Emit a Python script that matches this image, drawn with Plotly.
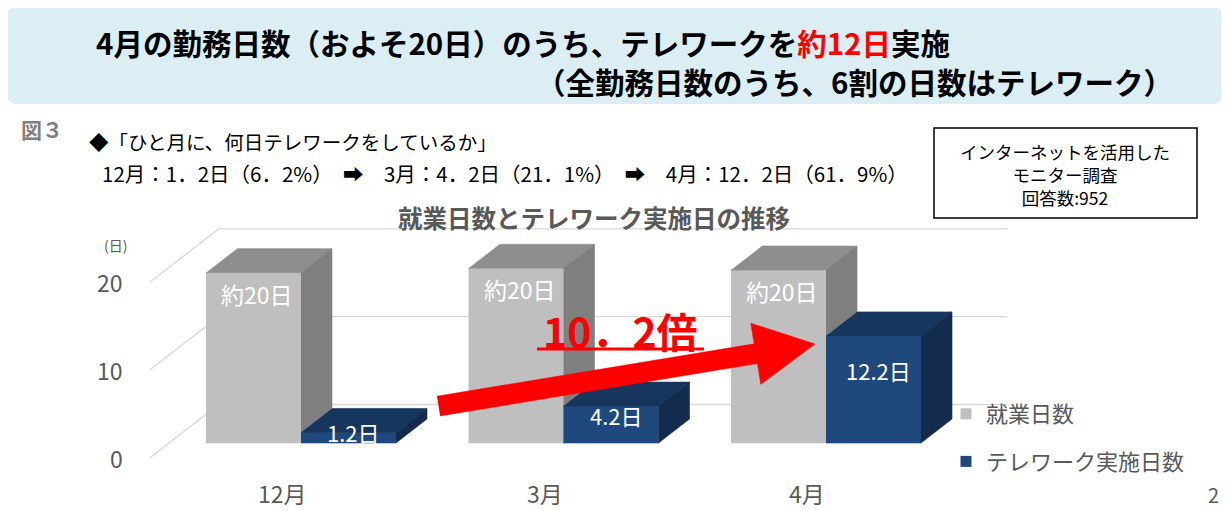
import math
import plotly.graph_objects as go

# data
months = ["12月", "3月", "4月"]
work_days = [19.4, 19.9, 19.7]
tele_days = [1.2, 4.2, 12.2]
work_labels = ["約20日", "約20日", "約20日"]
tele_labels = ["1.2日", "4.2日", "12.2日"]
y_ticks = [0, 10, 20]
series_names = ["就業日数", "テレワーク実施日数"]

ratio_text = "10．2倍"
chart_title = "就業日数とテレワーク実施日の推移"
head_line1 = "4月の勤務日数（およそ20日）のうち、テレワークを<span style='color:#FF0000'>約12日</span>実施"
head_line2 = "（全勤務日数のうち、6割の日数はテレワーク）"
question = "◆「ひと月に、何日テレワークをしているか」"
summary = "12月：1．2日（6．2%）　➡　3月：4．2日（21．1%）　➡　4月：12．2日（61．9%）"
survey_note = "インターネットを活用した<br>モニター調査<br>回答数:952"

FONT = "Noto Sans CJK JP"
W, H = 1229, 510
OFF = 8  # page body margin
WF, HF = W - OFF, H - OFF

# pseudo-3d geometry (px per unit)
SX, SY = 262.5, 8.78
X0_PX, Y0_PX = 301, 443
BAR_W = 95 / SX
DX, DY = 31 / SX, 24 / SY
D_FRONT, D_BACK = -0.61, 1.604
LEFT_X = -0.503
RIGHT_X = 2.69

GREY = ("#BFBFBF", "#8E8E8E", "#7F7F7F")
BLUE = ("#1F487C", "#17365D", "#132C4E")
GRID = "#D9D9D9"
TXT = "#595959"
RED = "#FF0000"


def px(x, y):
    return dict(x=(x - OFF) / WF, y=1 - (y - OFF) / HF)


fig = go.Figure()

# walls / gridlines
for v in y_ticks:
    xb = LEFT_X + DX * D_BACK
    xf = LEFT_X + DX * D_FRONT
    fig.add_trace(go.Scatter(x=[xf, xb, RIGHT_X], y=[v + DY * D_FRONT, v + DY * D_BACK, v + DY * D_BACK],
                             mode="lines", line=dict(color=GRID, width=1.3),
                             hoverinfo="skip", showlegend=False))


def box(x0, h, cols):
    x1 = x0 + BAR_W
    faces = [
        ([x0, x1, x1, x0], [0, 0, h, h], cols[0]),
        ([x0, x1, x1 + DX, x0 + DX], [h, h, h + DY, h + DY], cols[1]),
        ([x1, x1 + DX, x1 + DX, x1], [0, DY, h + DY, h], cols[2]),
    ]
    for xs, ys, c in faces:
        fig.add_trace(go.Scatter(x=xs, y=ys, fill="toself", fillcolor=c, mode="lines",
                                 line=dict(color=c, width=0.6), hoverinfo="skip", showlegend=False))


for i, m in enumerate(months):
    box(i - BAR_W, work_days[i], GREY)
    box(i, tele_days[i], BLUE)

# legend entries
for name, col in zip(series_names, [GREY[0], BLUE[0]]):
    fig.add_trace(go.Scatter(x=[None], y=[None], mode="markers", name=name, legendgroup=name,
                             marker=dict(symbol="square", size=11, color=col)))

ann = []
for i, m in enumerate(months):
    ann.append(dict(x=i - BAR_W / 2 + 0.015, y=work_days[i] - 2.4, text=work_labels[i],
                    font=dict(size=23, color="white")))
    ann.append(dict(x=i + BAR_W / 2 + 0.02, y=tele_days[i] * 0.642 + 0.46, text=tele_labels[i],
                    font=dict(size=22, color="white")))
    ann.append(dict(x=i + DX * D_FRONT, y=DY * D_FRONT - 4.0, text=m, font=dict(size=23, color=TXT)))
for v in y_ticks:
    ann.append(dict(x=LEFT_X + DX * D_FRONT - 0.095, y=v + DY * D_FRONT, text=str(v), xanchor="right",
                    font=dict(size=23, color=TXT)))
ann.append(dict(x=-0.707, y=max(y_ticks) + 2.55, text="(日)", font=dict(size=14, color=TXT)))
for a in ann:
    a.setdefault("xanchor", "center")
    a.update(xref="x", yref="y", yanchor="middle", showarrow=False)
    a["font"]["family"] = FONT

# red arrow 12月 -> 4月
tail = (0.524, 4.21)
tip = (1.958, 11.28)
tx, ty = tail[0] * SX, tail[1] * SY
hx, hy = tip[0] * SX, tip[1] * SY
L = math.hypot(hx - tx, hy - ty)
ux, uy = (hx - tx) / L, (hy - ty) / L
nx, ny = -uy, ux
shaft, head_w, head_l = 10, 31, 60
bx, by = hx - ux * head_l, hy - uy * head_l
pts = [(tx + nx * shaft, ty + ny * shaft), (bx + nx * shaft, by + ny * shaft),
       (bx + nx * head_w, by + ny * head_w), (hx, hy),
       (bx - nx * head_w, by - ny * head_w), (bx - nx * shaft, by - ny * shaft),
       (tx - nx * shaft, ty - ny * shaft)]
fig.add_trace(go.Scatter(x=[p[0] / SX for p in pts], y=[p[1] / SY for p in pts], fill="toself",
                         fillcolor=RED, mode="lines", line=dict(color=RED, width=0.5),
                         hoverinfo="skip", showlegend=False))

rx, ry = 1.217, 12.87
ann.append(dict(x=rx, y=ry, xref="x", yref="y", text="<b>" + ratio_text + "</b>", showarrow=False,
                font=dict(family=FONT, size=41, color=RED)))
shapes = [dict(type="line", xref="x", yref="y", x0=rx - 0.318, x1=rx + 0.318, y0=ry - 2.16, y1=ry - 2.16,
               line=dict(color=RED, width=3))]

# header box
x0, x1 = (5 - OFF) / WF, (1225 - OFF) / WF
y0, y1 = 1 - (104 - OFF) / HF, 1 - (7 - OFF) / HF
rx_, ry_ = 14 / WF, 14 / HF
path = (f"M{x0 + rx_},{y1} L{x1 - rx_},{y1} Q{x1},{y1} {x1},{y1 - ry_} L{x1},{y0 + ry_} "
        f"Q{x1},{y0} {x1 - rx_},{y0} L{x0 + rx_},{y0} Q{x0},{y0} {x0},{y0 + ry_} "
        f"L{x0},{y1 - ry_} Q{x0},{y1} {x0 + rx_},{y1} Z")
shapes.append(dict(type="path", xref="paper", yref="paper", path=path, fillcolor="#DAEEF3",
                   line=dict(width=0), layer="below"))
shapes.append(dict(type="rect", xref="paper", yref="paper", x0=(934 - OFF) / WF, x1=(1197 - OFF) / WF,
                   y0=1 - (218 - OFF) / HF, y1=1 - (128 - OFF) / HF, line=dict(color="black", width=1.5)))

ann += [
    dict(**px(94, 42), text="<b>" + head_line1 + "</b>", xanchor="left",
         font=dict(family=FONT, size=29.5, color="black")),
    dict(**px(1175, 81), text="<b>" + head_line2 + "</b>", xanchor="right",
         font=dict(family=FONT, size=29.5, color="black")),
    dict(**px(19, 129), text="<b>図３</b>", xanchor="left", font=dict(family=FONT, size=21, color="#808080")),
    dict(**px(87, 141), text=question, xanchor="left", font=dict(family=FONT, size=19.5, color="black")),
    dict(**px(100, 173), text=summary, xanchor="left", font=dict(family=FONT, size=20.5, color="black")),
    dict(**px(1065, 175), text=survey_note, xanchor="center",
         font=dict(family=FONT, size=17.5, color="black")),
    dict(**px(594, 217), text="<b>" + chart_title + "</b>", xanchor="center",
         font=dict(family=FONT, size=24.5, color=TXT)),
    dict(**px(1213, 494), text="2", xanchor="center", font=dict(family=FONT, size=20, color=TXT)),
]
for a in ann:
    a.setdefault("xref", "paper")
    a.setdefault("yref", "paper")
    a.setdefault("yanchor", "middle")
    a["showarrow"] = False

fig.update_layout(
    width=WF, height=HF,
    margin=dict(l=0, r=0, t=0, b=0),
    paper_bgcolor="white", plot_bgcolor="white",
    xaxis=dict(range=[(OFF - X0_PX) / SX, (W - X0_PX) / SX], visible=False, fixedrange=True),
    yaxis=dict(range=[-(H - Y0_PX) / SY, (Y0_PX - OFF) / SY], visible=False, fixedrange=True),
    annotations=ann, shapes=shapes,
    legend=dict(x=(946 - OFF) / WF, y=1 - (393 - OFF) / HF, xanchor="left", yanchor="top",
                bgcolor="rgba(0,0,0,0)", font=dict(family=FONT, size=22, color=TXT),
                tracegroupgap=16, itemwidth=30),
    showlegend=True,
)

fig.write_html("out.html")
